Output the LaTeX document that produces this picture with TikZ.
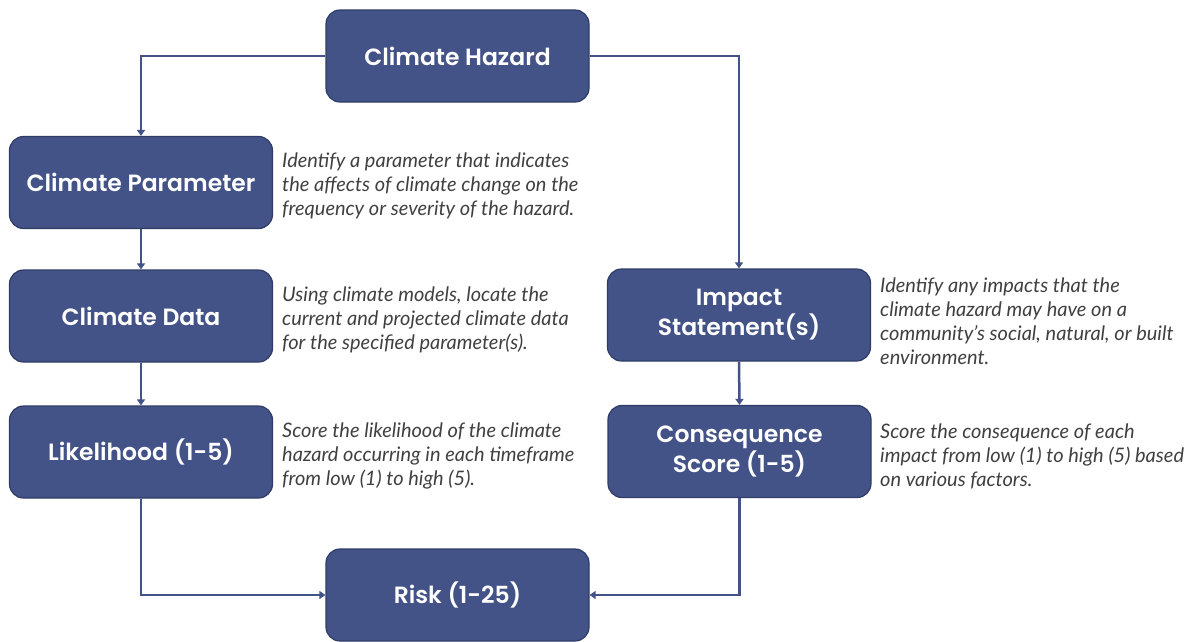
\documentclass[tikz,border=0pt]{standalone}
\usepackage{fontspec}
\setmainfont{Lato}
\newfontfamily\boxfont{Poppins}[UprightFont=* SemiBold]
\usetikzlibrary{arrows.meta}
\definecolor{boxfill}{HTML}{435388}
\definecolor{boxline}{HTML}{2E3C66}
\definecolor{descgray}{HTML}{404040}
\tikzset{
  stepbox/.style={draw=boxline, line width=1.2pt, fill=boxfill, rounded corners=14pt,
    minimum width=263pt, minimum height=92pt, text=white, align=center,
    font=\boxfont\fontsize{23.5}{30}\selectfont, inner sep=0pt},
  desc/.style={anchor=west, align=left, text=descgray,
    font=\itshape\fontsize{20}{24}\selectfont, inner sep=0pt},
  conn/.style={draw=boxfill, line width=2.5pt, -{Triangle[length=6pt,width=8pt]}},
}
\begin{document}
\begin{tikzpicture}[x=1pt,y=-1pt]
\useasboundingbox (0,0) rectangle (1193,641);
\node[stepbox] (haz) at (457.5,56) {Climate Hazard};
\node[stepbox] (par) at (141,182.5) {Climate Parameter};
\node[stepbox] (dat) at (141,316) {Climate Data};
\node[stepbox] (lik) at (141,452) {Likelihood (1-5)};
\node[stepbox] (imp) at (739,315) {Impact\\Statement(s)};
\node[stepbox] (con) at (739.5,451.5) {Consequence\\Score (1-5)};
\node[stepbox] (risk) at (457.5,595) {Risk (1-25)};

\node[desc] (dpar) at (282,186) {Identify a parameter that indicates\\the affects of climate change on the\\frequency or severity of the hazard.};
\node[desc] (ddat) at (282,320) {Using climate models, locate the\\current and projected climate data\\for the specified parameter(s).};
\node[desc] (dlik) at (282,456) {Score the likelihood of the climate\\hazard occurring in each timeframe\\from low (1) to high (5).};
\node[desc] (dimp) at (880,321) {Identify any impacts that the\\climate hazard may have on a\\community’s social, natural, or built\\environment.};
\node[desc] (dcon) at (880,456) {Score the consequence of each\\impact from low (1) to high (5) based\\on various factors.};

\draw[conn] (haz.west) -| (par.north);
\draw[conn] (haz.east) -| (imp.north);
\draw[conn] (par) -- (dat);
\draw[conn] (dat) -- (lik);
\draw[conn] (imp.south) -- (con.north);
\draw[conn] (lik.south) |- (risk.west);
\draw[conn] (con.south) |- (risk.east);
\end{tikzpicture}
\end{document}
